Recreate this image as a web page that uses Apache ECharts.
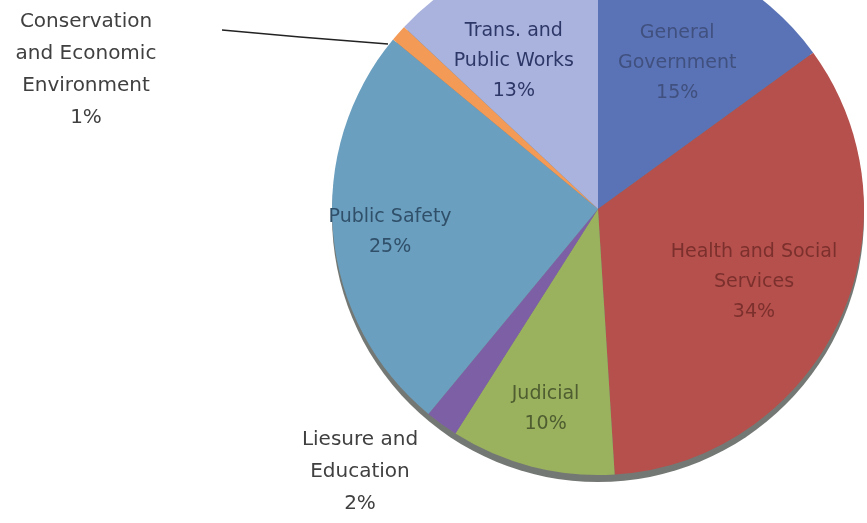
<!DOCTYPE html>
<html>
<head>
<meta charset="utf-8">
<script src="https://cdn.jsdelivr.net/npm/echarts@6/dist/echarts.min.js"></script>
<style>
  html, body { margin: 0; padding: 0; background: #fff; }
  #chart { width: 867px; height: 523px; }
</style>
</head>
<body>
<div id="chart"></div>
<script>
// slices, clockwise from 12 o'clock
const categories = [
  'General\nGovernment',
  'Health and Social\nServices',
  'Judicial',
  'Liesure and\nEducation',
  'Public Safety',
  'Conservation\nand Economic\nEnvironment',
  'Trans. and\nPublic Works'
];
const values = [15, 34, 10, 2, 25, 1, 13];
const sliceColors = ['#5a73b6', '#b5504c', '#9ab25e', '#7d5fa6', '#6b9fbf', '#f39a57', '#aab3dd'];
const textColors = ['#40507f', '#7c302d', '#4f5d30', '#404040', '#30506a', '#404040', '#2e3868'];

const cx = 598, cy = 209, R = 266;
// how far out the inside labels sit, relative to the default half radius, plus a small nudge
const labelPush = [1.25, 1.3, 1.55, 1, 1.58, 1, 1.28];
const labelNudge = [[2, 6], [-4, -2], [0, -4], [0, 0], [6, 3], [0, 0], [-15, 12]];

const chart = echarts.init(document.getElementById('chart'));

const data = categories.map(function (name, i) {
  const outside = (i === 3 || i === 5);
  return {
    name: name,
    value: values[i],
    itemStyle: { color: sliceColors[i] },
    label: {
      position: outside ? 'outside' : 'inside',
      color: textColors[i],
      fontSize: outside ? 20 : 19,
      lineHeight: outside ? 32 : 30
    },
    labelLine: { show: i === 5 }
  };
});

chart.setOption({
  animation: false,
  series: [
    {
      // thin dark rim under the pie
      type: 'pie',
      silent: true,
      center: [cx, cy + 7],
      radius: R,
      label: { show: false },
      labelLine: { show: false },
      itemStyle: { color: 'rgba(70,75,70,0.75)' },
      data: [{ value: 1, name: 'rim' }]
    },
    {
      type: 'pie',
      center: [cx, cy],
      radius: R,
      startAngle: 90,
      clockwise: true,
      avoidLabelOverlap: false,
      itemStyle: { borderWidth: 0 },
      label: {
        show: true,
        fontFamily: 'DejaVu Sans',
        align: 'center',
        formatter: function (p) { return p.name + '\n' + Math.round(p.percent) + '%'; }
      },
      labelLine: { lineStyle: { color: '#222', width: 1.3 }, length: 20, length2: 20 },
      labelLayout: function (p) {
        const i = p.dataIndex;
        if (i === 5) {
          return {
            x: 86, y: 70, align: 'center', verticalAlign: 'middle',
            labelLinePoints: [[388, 44], [300, 37], [222, 30]]
          };
        }
        if (i === 3) {
          return { x: 360, y: 472, align: 'center', verticalAlign: 'middle' };
        }
        const r = p.labelRect;
        const lx = r.x + r.width / 2, ly = r.y + r.height / 2;
        const k = labelPush[i];
        return {
          x: cx + (lx - cx) * k + labelNudge[i][0],
          y: cy + (ly - cy) * k + labelNudge[i][1],
          align: 'center',
          verticalAlign: 'middle'
        };
      },
      data: data
    }
  ]
});
</script>
</body>
</html>
